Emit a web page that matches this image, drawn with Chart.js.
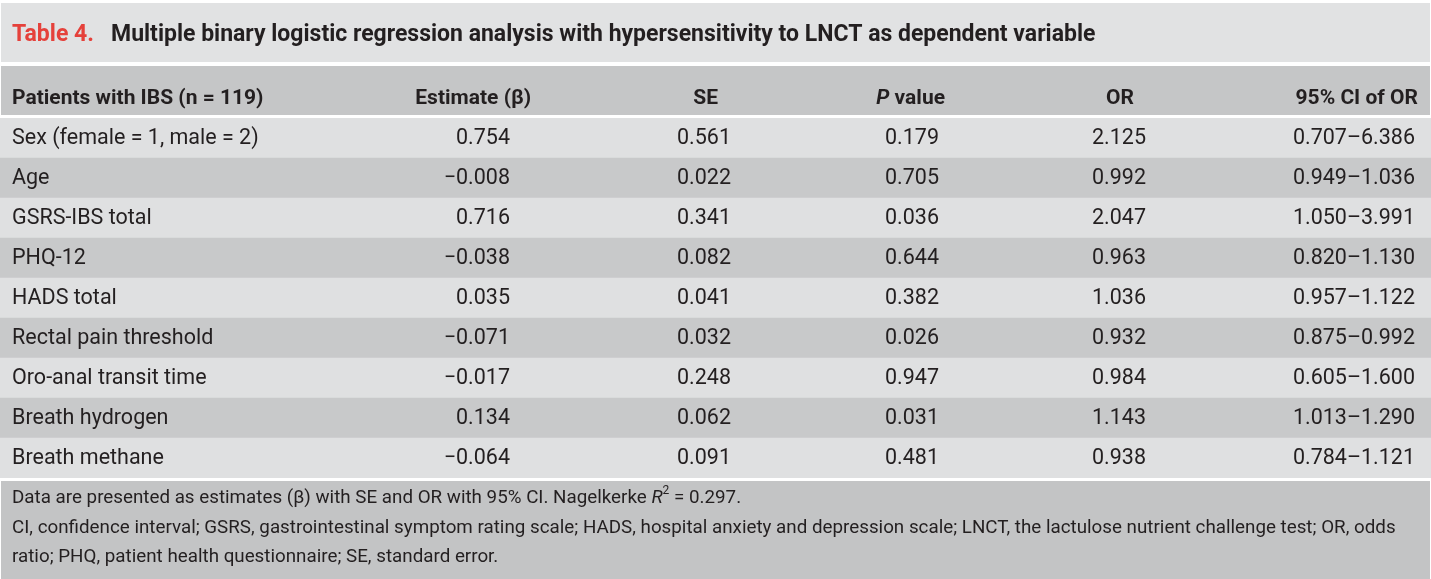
<!DOCTYPE html>
<html>
<head>
<meta charset="utf-8">
<script src="https://cdn.jsdelivr.net/npm/chart.js@4"></script>
<style>
  html, body { margin: 0; padding: 0; background: #ffffff; }
  #wrap { width: 1431px; height: 579px; }
</style>
</head>
<body>
<div id="wrap"><canvas id="table-canvas" width="1431" height="579"></canvas></div>
<script>
// table data
const rowLabels = [
  'Sex (female = 1, male = 2)', 'Age', 'GSRS-IBS total', 'PHQ-12', 'HADS total',
  'Rectal pain threshold', 'Oro-anal transit time', 'Breath hydrogen', 'Breath methane'
];
const estimates = [0.754, -0.008, 0.716, -0.038, 0.035, -0.071, -0.017, 0.134, -0.064];
const stdErrors = [0.561, 0.022, 0.341, 0.082, 0.041, 0.032, 0.248, 0.062, 0.091];
const pValues = [0.179, 0.705, 0.036, 0.644, 0.382, 0.026, 0.947, 0.031, 0.481];
const oddsRatios = [2.125, 0.992, 2.047, 0.963, 1.036, 0.932, 0.984, 1.143, 0.938];
const ciLower = [0.707, 0.949, 1.050, 0.820, 0.957, 0.875, 0.605, 1.013, 0.784];
const ciUpper = [6.386, 1.036, 3.991, 1.130, 1.122, 0.992, 1.600, 1.290, 1.121];
const nagelkerkeR2 = 0.297;

const titleLabel = 'Table 4.';
const titleText = 'Multiple binary logistic regression analysis with hypersensitivity to LNCT as dependent variable';
const footNote2 = 'CI, confidence interval; GSRS, gastrointestinal symptom rating scale; HADS, hospital anxiety and depression scale; LNCT, the lactulose nutrient challenge test; OR, odds';
const footNote3 = 'ratio; PHQ, patient health questionnaire; SE, standard error.';

const FONT = '"Roboto", "Liberation Sans", sans-serif';
const TEXT = '#231f20';
const LIGHT = '#dfe0e1';
const DARK = '#c8c9ca';

function fmt(v) {
  let s = v.toFixed(3);
  return s.replace('-', '\u2212');
}

// draw a line made of several font runs
function drawRuns(ctx, runs, x, y, align) {
  let total = 0;
  runs.forEach(r => { ctx.font = r.font; total += ctx.measureText(r.text).width; });
  let cx = align === 'right' ? x - total : x;
  runs.forEach(r => {
    ctx.font = r.font;
    ctx.textAlign = 'left';
    ctx.fillText(r.text, cx, y + (r.dy || 0));
    cx += ctx.measureText(r.text).width;
  });
}

const tablePlugin = {
  id: 'tablePlugin',
  beforeDraw(chart) {
    const ctx = chart.ctx;
    const w = chart.width;
    ctx.save();
    ctx.fillStyle = '#ffffff';
    ctx.fillRect(0, 0, w, chart.height);
    // title box
    ctx.fillStyle = '#e1e2e3';
    ctx.fillRect(1, 3, w - 2, 59);
    // header band
    ctx.fillStyle = '#c5c6c7';
    ctx.fillRect(1, 66, w - 2, 49);
    // footer band
    ctx.fillStyle = '#c3c4c5';
    ctx.fillRect(1, chart.chartArea.bottom + 3, w - 2, chart.height - chart.chartArea.bottom - 3);
    ctx.restore();
  },
  afterDatasetsDraw(chart) {
    const ctx = chart.ctx;
    const y = chart.scales.y;
    ctx.save();
    ctx.textBaseline = 'middle';

    // title
    ctx.fillStyle = '#e5413b';
    ctx.font = 'bold 23px ' + FONT;
    ctx.textAlign = 'left';
    ctx.fillText(titleLabel, 12, 35);
    ctx.fillStyle = TEXT;
    ctx.fillText(titleText, 111, 35);

    // header
    const hy = 99;
    const bold = 'bold 21px ' + FONT;
    ctx.fillStyle = TEXT;
    drawRuns(ctx, [{ text: 'Patients with IBS (n = 119)', font: bold }], 12, hy, 'left');
    drawRuns(ctx, [{ text: 'Estimate (\u03b2)', font: bold }], 531, hy, 'right');
    drawRuns(ctx, [{ text: 'SE', font: bold }], 718, hy, 'right');
    drawRuns(ctx, [{ text: 'P', font: 'italic ' + bold }, { text: ' value', font: bold }], 945, hy, 'right');
    drawRuns(ctx, [{ text: 'OR', font: bold }], 1134, hy, 'right');
    drawRuns(ctx, [{ text: '95% CI of OR', font: bold }], 1418, hy, 'right');

    // body cells, placed on the category scale
    const body = '21.5px ' + FONT;
    ctx.font = body;
    rowLabels.forEach((label, i) => {
      const py = y.getPixelForValue(i) + 1;
      ctx.textAlign = 'left';
      ctx.fillText(label, 12, py);
      ctx.textAlign = 'right';
      ctx.fillText(fmt(estimates[i]), 510, py);
      ctx.fillText(fmt(stdErrors[i]), 731, py);
      ctx.fillText(fmt(pValues[i]), 939, py);
      ctx.fillText(fmt(oddsRatios[i]), 1146, py);
      ctx.fillText(fmt(ciLower[i]) + '\u2013' + fmt(ciUpper[i]), 1415, py);
    });

    // footnotes
    const foot = '18.8px ' + FONT;
    const fy = chart.chartArea.bottom + 20;
    drawRuns(ctx, [
      { text: 'Data are presented as estimates (\u03b2) with SE and OR with 95% CI. Nagelkerke ', font: foot },
      { text: 'R', font: 'italic ' + foot },
      { text: '2', font: '12px ' + FONT, dy: -7 },
      { text: ' = ' + nagelkerkeR2.toFixed(3) + '.', font: foot }
    ], 12, fy, 'left');
    drawRuns(ctx, [{ text: footNote2, font: foot }], 12, fy + 30, 'left');
    drawRuns(ctx, [{ text: footNote3, font: foot }], 12, fy + 59, 'left');
    ctx.restore();
  }
};

const bandColors = rowLabels.map((_, i) => (i % 2 === 0 ? LIGHT : DARK));

new Chart(document.getElementById('table-canvas'), {
  type: 'bar',
  data: {
    labels: rowLabels,
    datasets: [{
      label: 'rows',
      data: rowLabels.map(() => [0, 1]),
      backgroundColor: bandColors,
      borderWidth: 0,
      barPercentage: 1,
      categoryPercentage: 1
    }]
  },
  options: {
    indexAxis: 'y',
    responsive: false,
    animation: false,
    layout: { padding: { top: 118, bottom: 101, left: 0, right: 0 } },
    scales: {
      x: { type: 'linear', min: 0, max: 1, display: false },
      y: { type: 'category', display: false, offset: true }
    },
    plugins: {
      legend: { display: false },
      tooltip: { enabled: false }
    }
  },
  plugins: [tablePlugin]
});
</script>
</body>
</html>
